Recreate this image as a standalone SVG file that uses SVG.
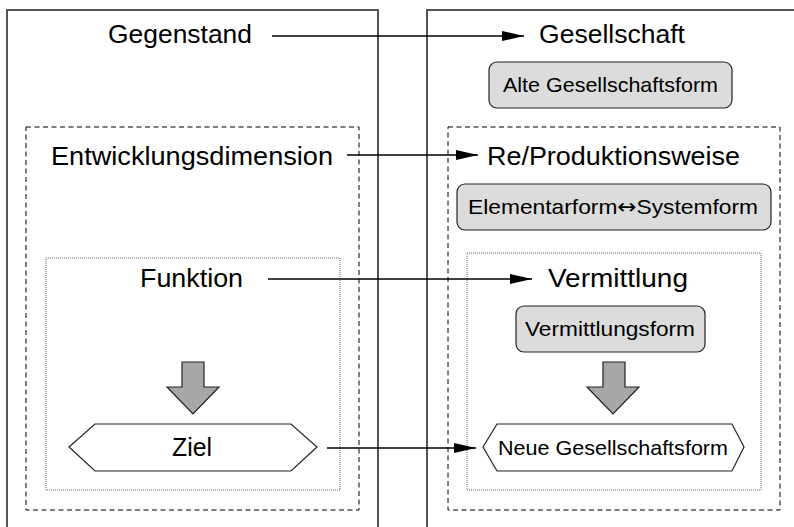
<svg xmlns="http://www.w3.org/2000/svg" width="794" height="527" viewBox="0 0 794 527">
<defs>
<style>
.outer{fill:none;stroke:#555;stroke-width:2}
.dash{fill:none;stroke:#000;stroke-width:1;stroke-dasharray:5 3.5}
.dot{fill:none;stroke:#666;stroke-width:1;stroke-dasharray:1 1}
.t{font-family:"Liberation Sans",Arial,sans-serif;fill:#000;text-anchor:middle}
.big{font-size:26.5px}
.small{font-size:21px}
.box{fill:#dcdcdc;stroke:#222;stroke-width:1.2}
.hex{fill:#fff;stroke:#222;stroke-width:1.2}
.barrow{fill:#a6a8a8;stroke:#222;stroke-width:1.2}
.conn{stroke:#000;stroke-width:1.3;fill:none;marker-end:url(#ah)}
.sym{font-family:"DejaVu Sans",sans-serif}
</style>
<marker id="ah" viewBox="0 0 22 10" refX="22" refY="5" markerWidth="22" markerHeight="10" markerUnits="userSpaceOnUse" orient="auto">
<path d="M0,0 L22,5 L0,10 Z" fill="#000"/>
</marker>
</defs>
<rect width="794" height="527" fill="#fff"/>
<g id="gegenstand-frame">
<path class="outer" d="M7,530 V10 H378 V530"/>
<text class="t big" x="180" y="43" textLength="144" lengthAdjust="spacingAndGlyphs">Gegenstand</text>
</g>
<g id="gesellschaft-frame">
<path class="outer" d="M427,530 V10 H800"/>
<text class="t big" x="612" y="43" textLength="146" lengthAdjust="spacingAndGlyphs">Gesellschaft</text>
</g>
<g id="alte">
<rect class="box" x="489" y="62" width="243" height="46" rx="8"/>
<text class="t small" x="610.5" y="92" textLength="215" lengthAdjust="spacingAndGlyphs">Alte Gesellschaftsform</text>
</g>
<g id="entwicklungsdimension">
<rect class="dash" x="26" y="127" width="333" height="383"/>
<text class="t big" x="192" y="165" textLength="282" lengthAdjust="spacingAndGlyphs">Entwicklungsdimension</text>
</g>
<g id="reproduktionsweise">
<rect class="dash" x="448" y="127" width="332" height="383"/>
<text class="t big" x="613.5" y="165" textLength="253" lengthAdjust="spacingAndGlyphs">Re/Produktionsweise</text>
</g>
<g id="elementarform">
<rect class="box" x="457" y="184" width="314" height="46" rx="8"/>
<text class="t small" x="613" y="214" textLength="290" lengthAdjust="spacingAndGlyphs">Elementarform<tspan class="sym">↔</tspan>Systemform</text>
</g>
<g id="funktion">
<rect class="dot" x="46" y="258" width="294" height="232"/>
<text class="t big" x="191.5" y="287" textLength="103" lengthAdjust="spacingAndGlyphs">Funktion</text>
</g>
<g id="vermittlung">
<rect class="dot" x="467" y="253" width="294" height="237"/>
<text class="t big" x="618" y="287" textLength="140" lengthAdjust="spacingAndGlyphs">Vermittlung</text>
</g>
<g id="vermittlungsform">
<rect class="box" x="516" y="306" width="189" height="46" rx="8"/>
<text class="t small" x="610" y="336" textLength="170" lengthAdjust="spacingAndGlyphs">Vermittlungsform</text>
</g>
<g id="arrow-left">
<path class="barrow" d="M182,362 H204 V387 H219 L193,414 L167,387 H182 Z"/>
</g>
<g id="arrow-right">
<path class="barrow" d="M603,362 H625 V387 H639 L613,414 L587,387 H603 Z"/>
</g>
<g id="ziel">
<path class="hex" d="M69,447 L95,424 H291 L317,447 L291,471 H95 Z"/>
<text class="t big" x="192" y="456" textLength="40" lengthAdjust="spacingAndGlyphs">Ziel</text>
</g>
<g id="neue">
<path class="hex" d="M483,447 L497,424 H732 L744,447 L732,471 H497 Z"/>
<text class="t small" x="613" y="455" textLength="230" lengthAdjust="spacingAndGlyphs">Neue Gesellschaftsform</text>
</g>
<g id="connectors">
<line class="conn" x1="272" y1="36" x2="524" y2="36"/>
<line class="conn" x1="347" y1="155" x2="478" y2="155"/>
<line class="conn" x1="268" y1="279" x2="532" y2="279"/>
<line class="conn" x1="327" y1="448" x2="476" y2="448"/>
</g>
</svg>
